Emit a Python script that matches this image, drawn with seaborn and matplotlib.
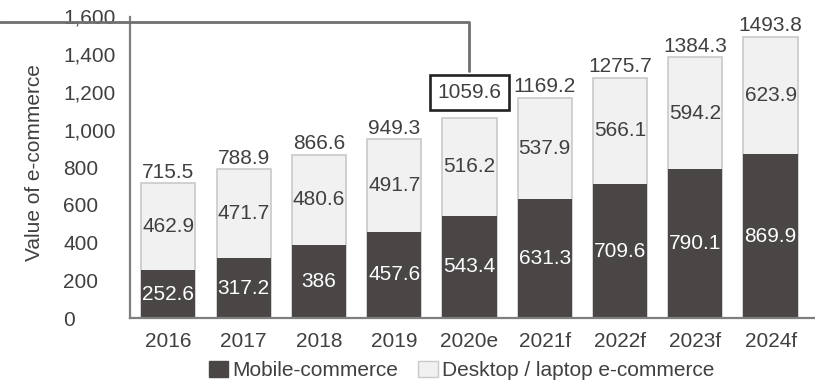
import pandas as pd
import matplotlib.pyplot as plt
import seaborn as sns
from matplotlib.patches import Patch

years = ["2016", "2017", "2018", "2019", "2020e", "2021f", "2022f", "2023f", "2024f"]
mobile = [252.6, 317.2, 386, 457.6, 543.4, 631.3, 709.6, 790.1, 869.9]
desktop = [462.9, 471.7, 480.6, 491.7, 516.2, 537.9, 566.1, 594.2, 623.9]
totals = [715.5, 788.9, 866.6, 949.3, 1059.6, 1169.2, 1275.7, 1384.3, 1493.8]
boxed_year = "2020e"

DARK = "#4a4646"
LIGHT = "#f1f1f1"
EDGE = "#c9c9c9"
TXT = "#404040"
SPINE = "#7f7f7f"

sns.set_style("white")
plt.rcParams['font.family'] = ['Liberation Sans', 'DejaVu Sans']

df = pd.DataFrame({"year": years, "mobile": mobile, "desktop": desktop, "total": totals})

fig = plt.figure(figsize=(8.15, 3.83), dpi=100)
ax = fig.add_axes([130 / 815, 1 - 318 / 383, 685 / 815, (318 - 16.5) / 383])

sns.barplot(data=df, x="year", y="total", color=LIGHT, edgecolor=EDGE, linewidth=1.2,
            width=0.72, saturation=1, ax=ax)
sns.barplot(data=df, x="year", y="mobile", color=DARK, edgecolor=DARK, linewidth=0,
            width=0.72, saturation=1, ax=ax)

fs = 15
for i, row in df.iterrows():
    ax.text(i, row["mobile"] / 2, f"{row['mobile']:g}", ha="center", va="center",
            color="white", fontsize=fs)
    ax.text(i, row["mobile"] + row["desktop"] / 2, f"{row['desktop']:g}", ha="center",
            va="center", color=TXT, fontsize=fs)
    if row["year"] == boxed_year:
        ax.text(i, row["total"] + 135, f"{row['total']:g}", ha="center", va="center",
                color=TXT, fontsize=fs,
                bbox=dict(boxstyle="square,pad=0.38", fc="white", ec="#222222", lw=1.9))
    else:
        ax.text(i, row["total"] + 8, f"{row['total']:g}", ha="center", va="bottom",
                color=TXT, fontsize=fs)

ax.set_xlim(-0.51, 8.59)
ax.set_ylim(0, 1600)
ax.set_yticks(range(0, 1601, 200))
ax.set_yticklabels([f"{v:,}" for v in range(0, 1601, 200)], ha="left")
ax.tick_params(axis="both", length=0, labelsize=fs, colors=TXT)
ax.tick_params(axis="x", pad=10)
ax.tick_params(axis="y", pad=48)
ax.set_xlabel("")
ax.set_ylabel("Value of e-commerce", fontsize=fs, color=TXT)
ax.yaxis.set_label_coords(-0.126, 0.517)
for s in ["top", "right"]:
    ax.spines[s].set_visible(False)
for s in ["left", "bottom"]:
    ax.spines[s].set_color(SPINE)
    ax.spines[s].set_linewidth(1.6)

# connector line from the left edge to the boxed total
bi = years.index(boxed_year)
x0 = ax.transData.inverted().transform(fig.transFigure.transform((0, 0)))[0]
ax.plot([x0, bi, bi], [1570, 1570, 1310], color="#6f6f6f", lw=2,
        clip_on=False, zorder=5)

handles = [Patch(facecolor=DARK, edgecolor=DARK), Patch(facecolor=LIGHT, edgecolor=EDGE)]
fig.legend(handles, ["Mobile-commerce", "Desktop / laptop e-commerce"], loc="center",
           bbox_to_anchor=(461.5 / 815, 1 - 370.5 / 383), ncol=2, frameon=False,
           fontsize=fs, labelcolor=TXT, handlelength=0.95, handleheight=0.85,
           handletextpad=0.2, columnspacing=0.95, borderaxespad=0, borderpad=0)

fig.savefig("out.png", dpi=100)
